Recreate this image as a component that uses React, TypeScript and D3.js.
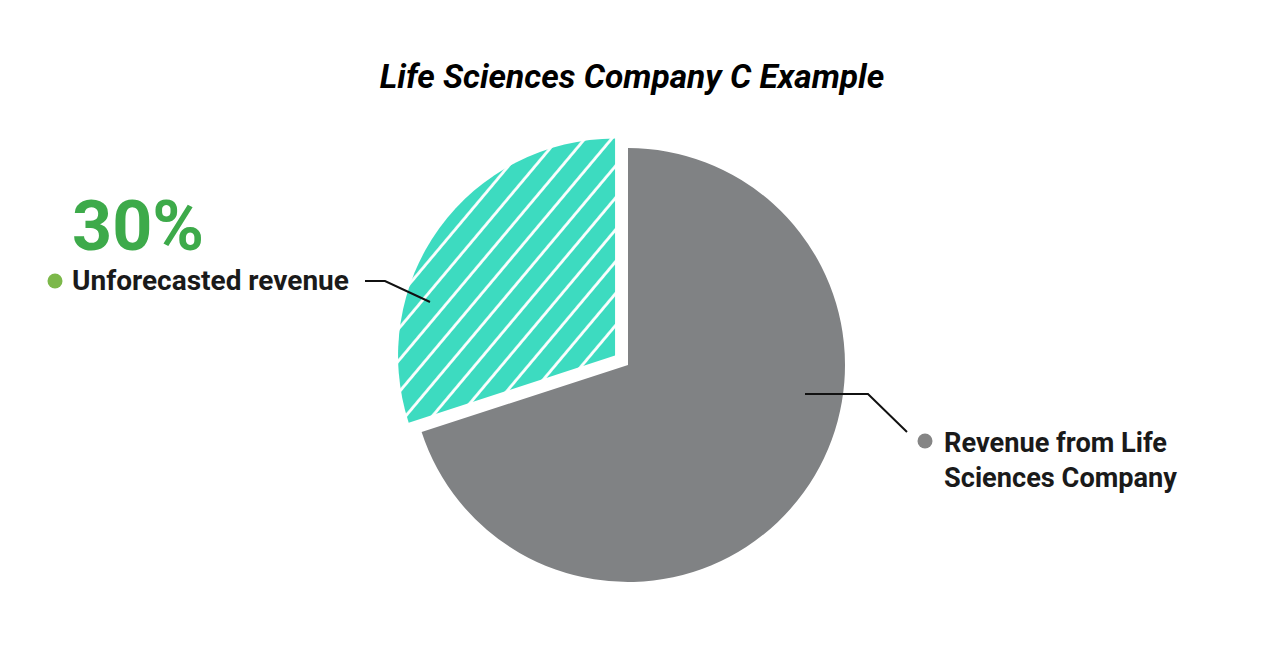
import React from "react";
import * as d3 from "d3";

const categories = ["Revenue from Life Sciences Company", "Unforecasted revenue"];
const values = [70, 30];
const colors = ["#808284", "#3DDBC0"];
const exploded = [false, true];

const W = 1280;
const H = 652;

export default function App() {
  const cx = 628;
  const cy = 365;
  const r = 217;
  const pie = d3.pie<number>().sort(null).value((d) => d).startAngle(0).endAngle(2 * Math.PI);
  const arcs = pie(values);
  const arc = d3.arc<d3.PieArcDatum<number>>().innerRadius(0).outerRadius(r);
  const pct = d3.format(".0%")(values[1] / d3.sum(values));

  return (
    <svg width={W} height={H} style={{ position: "absolute", left: 0, top: 0, background: "#fff" }}>
      <defs>
        <pattern id="hatch" patternUnits="userSpaceOnUse" width="20.5" height="20.5" patternTransform="rotate(-50)">
          <rect width="20.5" height="20.5" fill={colors[1]} />
          <line x1="0" y1="1.5" x2="20.5" y2="1.5" stroke="#fff" strokeWidth="2.8" />
        </pattern>
      </defs>
      <text x={632} y={88} textAnchor="middle" fontFamily="Roboto" fontWeight="bold" fontStyle="italic" fontSize={33.5} fill="#000">
        Life Sciences Company C Example
      </text>
      <g transform={`translate(${cx},${cy})`}>
        {arcs.map((a, i) => {
          const mid = (a.startAngle + a.endAngle) / 2;
          const off = exploded[i] ? 16 : 0;
          const dx = Math.sin(mid) * off;
          const dy = -Math.cos(mid) * off;
          return (
            <path
              key={i}
              d={arc(a) || ""}
              transform={`translate(${dx},${dy})`}
              fill={i === 1 ? "url(#hatch)" : colors[i]}
            />
          );
        })}
      </g>
      {/* left label */}
      <text x={72} y={250} fontFamily="Roboto" fontWeight="bold" fontSize={70} fill="#3DAA4A">
        {pct}
      </text>
      <circle cx={55} cy={281} r={7.5} fill="#7CB84A" />
      <text x={72} y={290} fontFamily="Roboto" fontWeight="bold" fontSize={28} fill="#1a1a1a">
        {categories[1]}
      </text>
      <polyline points="365,281 385,281 430,302" fill="none" stroke="#111" strokeWidth={2} />
      {/* right label */}
      <polyline points="805,394 868,394 907,432" fill="none" stroke="#111" strokeWidth={2} />
      <circle cx={925} cy={441} r={7.5} fill="#858585" />
      <text x={944} y={452} fontFamily="Roboto" fontWeight="bold" fontSize={27.2} fill="#1a1a1a">
        <tspan x={944} y={452}>Revenue from Life</tspan>
        <tspan x={944} y={487}>Sciences Company</tspan>
      </text>
    </svg>
  );
}
